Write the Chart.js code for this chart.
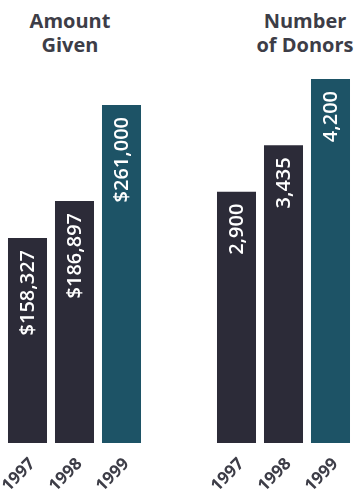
<!DOCTYPE html>
<html>
<head>
<meta charset="utf-8">
<script src="https://cdn.jsdelivr.net/npm/chart.js@4.4.1/dist/chart.umd.min.js"></script>
<style>
    html, body { margin: 0; padding: 0; background: #ffffff; }
    #wrap { position: relative; width: 355px; height: 489px; overflow: hidden; }
    .title {
        position: absolute;
        top: 9px;
        font-family: "Open Sans", sans-serif;
        font-weight: 700;
        font-size: 20px;
        line-height: 24px;
        color: #3d3d47;
        text-align: center;
        white-space: nowrap;
    }
    .box { position: absolute; top: 0; height: 489px; }
</style>
</head>
<body>
<div id="wrap">
    <div class="title" style="left: 20px; width: 100px;">Amount<br>Given</div>
    <div class="title" style="left: 250px; width: 110px;">Number<br>of Donors</div>
    <div class="box" style="left: 0; width: 177px;"><canvas id="amountChart"></canvas></div>
    <div class="box" style="left: 177px; width: 178px;"><canvas id="donorChart"></canvas></div>
</div>
<script>
const years = ['1997', '1998', '1999'];
const amountGiven = [158327, 186897, 261000];
const amountText = ['$158,327', '$186,897', '$261,000'];
const donorCount = [2900, 3435, 4200];
const donorText = ['2,900', '3,435', '4,200'];
const barColors = ['#2c2b38', '#2c2b38', '#1d5366'];

// draws the rotated value text inside the top of each bar
const insideLabels = {
    id: 'insideLabels',
    afterDatasetsDraw(chart, args, opts) {
        const ctx = chart.ctx;
        const meta = chart.getDatasetMeta(0);
        meta.data.forEach((bar, i) => {
            ctx.save();
            ctx.translate(bar.x, bar.y + 12);
            ctx.rotate(-Math.PI / 2);
            ctx.font = '600 20px "Open Sans", sans-serif';
            ctx.fillStyle = '#ffffff';
            ctx.textAlign = 'right';
            ctx.textBaseline = 'middle';
            ctx.fillText(opts.texts[i], 0, 1);
            ctx.restore();
        });
    }
};

function makeChart(id, values, texts, maxVal, padLeft, padRight) {
    const ctx = document.getElementById(id).getContext('2d');
    return new Chart(ctx, {
        type: 'bar',
        data: {
            labels: years,
            datasets: [{
                data: values,
                backgroundColor: barColors,
                borderWidth: 0,
                barPercentage: 0.83,
                categoryPercentage: 1.0
            }]
        },
        options: {
            responsive: true,
            maintainAspectRatio: false,
            animation: false,
            layout: { padding: { top: 60, left: padLeft, right: padRight, bottom: 0 } },
            plugins: {
                legend: { display: false },
                tooltip: { enabled: false },
                insideLabels: { texts: texts }
            },
            scales: {
                y: {
                    display: false,
                    min: 0,
                    max: maxVal
                },
                x: {
                    grid: { display: false },
                    border: { display: false },
                    afterFit: (scale) => {
                        // fixed axis band so the bars sit on the same baseline as the reference
                        scale.height = 46;
                        scale.paddingLeft = 0;
                        scale.paddingRight = 0;
                    },
                    ticks: {
                        color: '#3d3d47',
                        font: { family: '"Open Sans", sans-serif', weight: '700', size: 17 },
                        maxRotation: 45,
                        minRotation: 45,
                        padding: 3,
                        labelOffset: 5
                    }
                }
            }
        },
        plugins: [insideLabels]
    });
}

makeChart('amountChart', amountGiven, amountText, 295750, 4, 32);
makeChart('donorChart', donorCount, donorText, 4419, 36, 1);
</script>
</body>
</html>
